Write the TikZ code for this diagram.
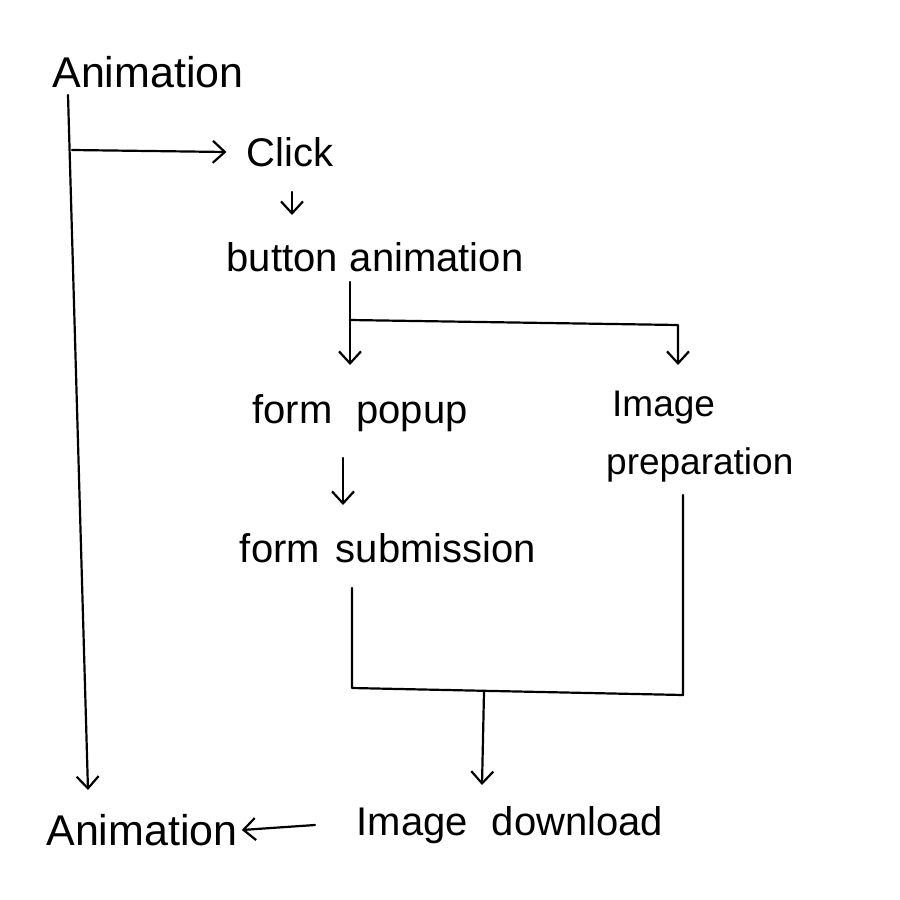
\documentclass[tikz,border=0pt]{standalone}
\usepackage{fontspec}
\setmainfont{Liberation Sans}
\usetikzlibrary{arrows.meta}
\begin{document}
\begin{tikzpicture}[x=1pt,y=-1pt,
  lbl/.style={inner sep=0pt,font=\fontsize{40}{46}\selectfont},
  con/.style={line width=2.2pt,line cap=round,line join=round},
  arr/.style={con,-{Straight Barb[length=12pt,width=22pt,line width=2.2pt]}}]
\fill[white] (0,0) rectangle (900,900);
\useasboundingbox (0,0) rectangle (900,900);
\node[lbl,font=\fontsize{43}{48}\selectfont] (anim1) at (148,72) {Animation};
\node[lbl] (click) at (290,152) {Click};
\node[lbl] (button) at (375,257) {button\hspace{0.3em}animation};
\node[lbl] (popup) at (360,413) {form\hspace{0.6em}popup};
\node[lbl,align=left,anchor=west,font=\fontsize{37}{58}\selectfont] (prep) at (606,437) {\hspace{6pt}Image\\preparation};
\node[lbl] (subm) at (388,548) {form\hspace{0.4em}submission};
\node[lbl] (down) at (510,825) {Image\hspace{0.6em}download};
\node[lbl,font=\fontsize{43}{48}\selectfont] (anim2) at (142,830) {Animation};
% main left line
\coordinate (a1) at (68,95);
\coordinate (a2) at (88,790);
\coordinate (b1) at (72,150);
\draw[arr] (a1) -- (a2);
\draw[arr] (b1) -- ([xshift=-20pt]click.west);
% click -> button
\coordinate (c1) at (292,192);
\coordinate (c2) at (292,215);
\draw[arr] (c1) -- (c2);
% button -> popup / prep
\coordinate (d1) at (350,282);
\coordinate (d2) at (350,365);
\coordinate (d3) at (350,320);
\coordinate (d4) at (678,365);
\draw[arr] (d1) -- (d2);
\draw[arr] (d3) -- (678,325) -- (d4);
% popup -> submission
\coordinate (e1) at (343,458);
\coordinate (e2) at (343,505);
\draw[arr] (e1) -- (e2);
% merge
\coordinate (f1) at (352,588);
\coordinate (f2) at (683,495);
\draw[con] (f1) -- (352,688) -- (683,695) -- (f2);
\coordinate (g1) at (484,692);
\coordinate (g2) at (482,785);
\draw[arr] (g1) -- (g2);
% download -> animation
\coordinate (h1) at (315,825);
\draw[arr] (h1) -- ([xshift=4pt]anim2.east);
\end{tikzpicture}
\end{document}
